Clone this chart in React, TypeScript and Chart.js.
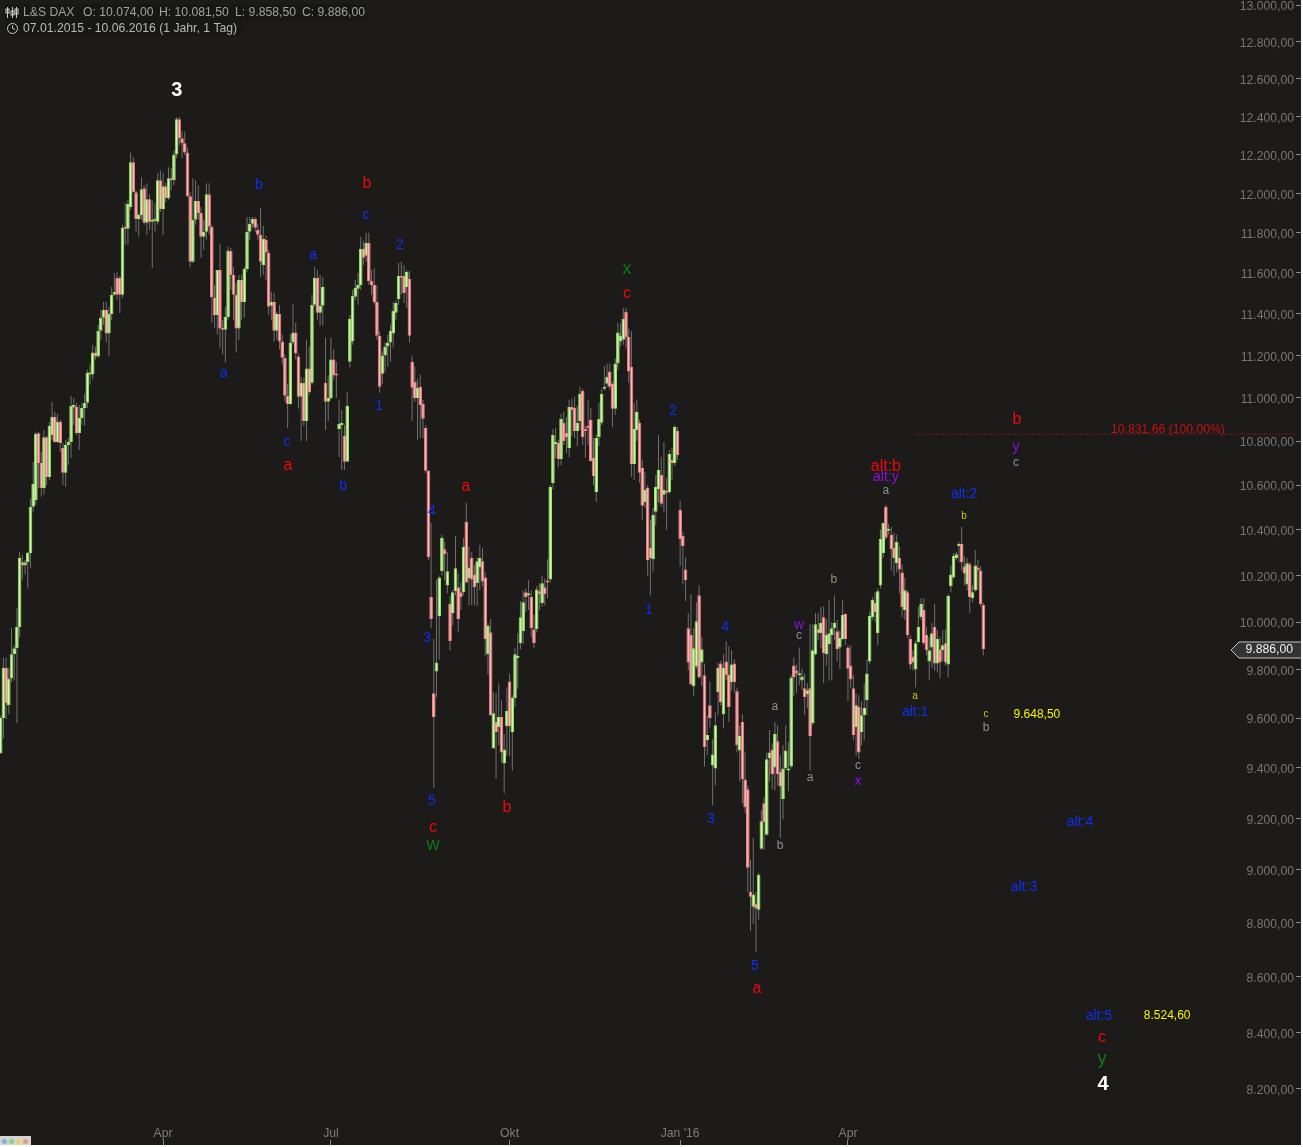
import React, { useEffect, useRef } from "react";
import { Chart, registerables } from "chart.js";

Chart.register(...registerables);

const opens = [
  9457,9600,9808,9653,9763,9864,9889,9979,10258,10244,
  10258,10298,10502,10533,10836,10700,10587,10818,10636,10828,
  10912,10796,10889,10768,10655,10782,10796,10955,10958,10837,
  10907,10953,10977,11110,11110,11214,11195,11319,11381,11420,
  11305,11400,11493,11576,11576,11493,11825,11820,11930,12159,
  12005,11870,11890,12025,11850,11970,11855,11860,11855,12067,
  11920,12036,11975,12077,12067,12200,12384,12284,12258,12210,
  11985,11655,11865,11960,11900,11780,11805,11995,11830,11480,
  11395,11615,11329,11324,11385,11710,11590,11493,11329,11566,
  11458,11620,11805,11845,11870,11815,11790,11640,11765,11700,
  11440,11458,11319,11400,11267,11190,11010,10972,11262,11310,
  11195,11005,11071,10893,11138,11071,11444,11576,11405,11439,
  11071,10982,11000,11181,11110,10856,10874,10823,10705,11171,
  11267,11483,11522,11541,11720,11685,11750,11561,11541,11458,
  11295,11114,11200,11243,11262,11305,11405,11473,11580,11585,
  11531,11570,11171,11076,11000,11052,10972,10860,10664,10107,
  9702,9792,10026,10218,10315,10157,10077,10039,10132,10149,
  10128,10128,10436,10187,10276,10204,10166,10235,10262,10191,
  9864,9957,9477,9584,9563,9604,9416,9567,9751,9543,
  9682,9848,9910,9961,10128,10115,10107,9970,9970,10132,
  10081,10149,10174,10183,10609,10787,10791,10718,10884,10837,
  10768,10958,10953,10846,10893,11033,10856,10870,10898,10723,
  10569,10818,10884,11043,11067,11124,11067,10949,11162,11267,
  11276,11410,11290,11147,10695,10851,10884,10677,10524,10587,
  10320,10271,10480,10582,10645,10556,10573,10569,10714,10700,
  10846,10489,10373,10226,9974,9945,9731,9813,10115,9830,
  9776,9510,9653,9408,9396,9706,9825,9616,9834,9780,
  9747,9825,9710,9469,9584,9353,9314,8917,8860,8872,
  8849,9081,9259,9135,9437,9473,9400,9506,9384,9275,
  9396,9388,9404,9817,9796,9776,9755,9723,9698,9723,
  9580,9864,9970,9953,10021,9864,9906,9945,9974,9961,
  9893,9928,10034,9893,9817,9723,9563,9645,9543,9612,
  9673,9834,10021,10081,9953,10157,10298,10502,10396,10378,
  10320,10253,10276,10213,10051,10128,9928,9855,9800,9915,
  10021,10051,9945,9834,9893,9979,9825,9885,9881,9910,
  9821,10153,10191,10276,10329,10337,10240,10161,10249,10102,
  10136,10235,10222,10074,
];

const highs = [
  9612,9851,9851,9808,9974,9902,10060,10302,10289,10267,
  10302,10538,10705,10843,10841,10750,10851,10823,10888,10982,
  10935,10926,10898,10791,10805,10814,11009,11000,10977,10967,
  10977,11019,11133,11157,11252,11243,11348,11420,11458,11458,
  11434,11531,11600,11605,11585,11840,11950,11965,12210,12185,
  12015,11900,12082,12041,12051,11995,11965,11950,12102,12118,
  12107,12051,12133,12128,12221,12395,12395,12321,12321,12237,
  12005,12077,12067,12041,11930,11865,12051,12051,11840,11541,
  11615,11745,11371,11434,11730,11725,11630,11551,11590,11590,
  11630,11880,11880,11880,11880,11845,11925,11835,11785,11715,
  11507,11502,11410,11444,11300,11205,11067,11300,11448,11357,
  11210,11100,11095,11276,11243,11493,11630,11615,11590,11580,
  11286,11105,11286,11229,11171,10991,10944,10874,11028,11395,
  11517,11566,11600,11780,11760,11800,11800,11615,11625,11541,
  11315,11219,11262,11300,11348,11458,11468,11650,11655,11640,
  11615,11610,11200,11147,11090,11110,10991,10874,10668,10431,
  9928,10179,10200,10378,10347,10302,10111,10136,10373,10209,
  10170,10365,10520,10325,10302,10244,10280,10333,10320,10213,
  9996,10013,9706,9702,9743,9673,9535,9726,9784,9694,
  9889,9953,10090,10136,10145,10179,10136,10030,10153,10166,
  10200,10187,10271,10600,10855,10860,10805,10926,10935,10912,
  10991,10996,11005,10963,11052,11043,10870,10991,10953,10814,
  10828,10977,11043,11152,11162,11162,11076,11186,11357,11353,
  11429,11429,11329,11319,10977,10991,10898,10714,10659,10600,
  10444,10498,10645,10828,10727,10796,10632,10759,10768,10874,
  10865,10529,10391,10280,10039,10119,9974,10085,10157,9936,
  9825,9612,9751,9514,9624,9830,9838,9864,9919,9898,
  9881,9842,9726,9571,9616,9465,9329,9038,9123,8917,
  8989,9231,9282,9461,9551,9498,9584,9571,9449,9490,
  9571,9502,9776,9851,9821,9893,9804,9784,9743,9991,
  9991,10039,10039,10064,10068,10013,10094,10000,10115,10009,
  9966,10094,10039,9902,9902,9776,9702,9694,9669,9743,
  9842,10043,10107,10128,10145,10400,10431,10511,10427,10413,
  10387,10378,10329,10249,10191,10136,9945,9881,9923,10064,
  10102,10102,9979,9936,9996,10077,9966,9936,9966,9970,
  10119,10244,10298,10302,10347,10413,10285,10276,10258,10157,
  10311,10267,10240,10081.5,
];

const lows = [
  9457,9518,9596,9616,9747,9755,9580,9936,10183,10204,
  10144,10231,10480,10511,10587,10547,10556,10600,10623,10805,
  10791,10791,10750,10600,10591,10691,10723,10874,10828,10759,
  10874,10870,10953,11062,11086,11181,11190,11276,11348,11262,
  11195,11371,11488,11468,11405,11478,11740,11740,11915,12005,
  11805,11780,11865,11840,11790,11815,11625,11805,11840,11905,
  11790,11955,11965,12015,12041,12180,12247,12180,12195,11980,
  11630,11650,11840,11865,11675,11715,11765,11790,11357,11333,
  11300,11238,11205,11167,11371,11517,11371,11214,11276,11371,
  11381,11605,11765,11825,11805,11765,11580,11590,11566,11395,
  11371,11267,11276,11229,11157,10982,10860,10967,11252,11181,
  10949,10800,10870,10800,11014,11062,11434,11371,11343,11343,
  10851,10893,10991,11086,11000,10727,10668,10668,10705,11143,
  11252,11468,11444,11517,11640,11655,11541,11493,11444,11276,
  11024,11067,11119,11147,11171,11238,11371,11444,11493,11453,
  11429,11262,10893,10982,10805,10814,10814,10654,10267,9974,
  9318,9685,9842,10200,10179,10123,9881,9987,10115,9957,
  10051,10115,10166,10072,10072,10072,10068,10136,10153,9855,
  9780,9608,9477,9357,9490,9420,9298,9449,9445,9388,
  9645,9723,9885,9906,10043,10051,9936,9889,9957,10051,
  10064,10072,10102,10170,10582,10723,10682,10691,10782,10745,
  10727,10823,10814,10777,10851,10782,10723,10782,10705,10600,
  10524,10777,10874,11033,11052,11038,10865,10921,11133,11243,
  11252,11233,11071,10636,10623,10800,10609,10444,10498,10200,
  10115,10218,10418,10524,10502,10476,10400,10560,10623,10686,
  10714,10240,10161,10090,9796,9735,9690,9804,9763,9731,
  9404,9449,9563,9251,9329,9612,9653,9559,9755,9584,
  9714,9706,9461,9345,9259,9220,8917,8770,8796,8692,
  8811,9077,9077,9131,9345,9314,9310,9329,9123,9196,
  9392,9306,9396,9690,9702,9735,9714,9612,9641,9388,
  9571,9860,9923,9889,9743,9817,9755,9755,9923,9834,
  9804,9923,9902,9669,9723,9510,9449,9433,9490,9510,
  9612,9821,10009,10000,9902,10144,10276,10356,10378,10222,
  10200,10213,10123,10021,10009,9932,9800,9796,9727,9910,
  10009,9902,9860,9755,9808,9796,9788,9763,9838,9817,
  9767,10128,10187,10267,10258,10222,10157,10136,10039,10085,
  10128,10136,10068,9858.5,
];

const closes = [
  9600,9808,9661,9763,9864,9889,9979,10276,10244,10258,
  10298,10502,10605,10832,10700,10587,10818,10636,10870,10912,
  10796,10889,10791,10655,10782,10796,10963,10967,10837,10907,
  10953,10977,11120,11120,11214,11195,11319,11381,11420,11305,
  11400,11493,11507,11493,11493,11825,11820,11945,12159,12005,
  11870,11890,12020,11850,11970,11855,11865,11870,12067,11920,
  12036,11975,12077,12067,12200,12384,12284,12258,12210,11985,
  11655,11865,11960,11900,11780,11805,11995,11830,11480,11395,
  11615,11329,11324,11385,11710,11590,11493,11329,11566,11458,
  11620,11805,11845,11870,11825,11790,11655,11770,11700,11435,
  11458,11319,11400,11267,11190,11010,10972,11262,11310,11210,
  11005,11071,10893,11138,11028,11444,11576,11405,11439,11531,
  10982,11000,11181,11105,11105,10879,10884,10705,10963,11376,
  11488,11527,11541,11720,11675,11750,11561,11541,11458,11295,
  11052,11200,11243,11262,11319,11415,11453,11585,11576,11502,
  11605,11295,11048,11000,11048,10967,10903,10664,10280,10013,
  9604,9830,10191,10365,10293,10218,9919,10128,10231,10013,
  10107,10325,10170,10235,10183,10149,10262,10276,10174,9927,
  9983,9612,9620,9543,9604,9461,9473,9629,9567,9682,
  9864,9852,10021,10085,10107,10123,9974,9910,10140,10119,
  10166,10119,10170,10591,10828,10796,10718,10903,10800,10818,
  10958,10944,10846,10884,11019,10818,10846,10860,10709,10641,
  10814,10903,11019,11048,11100,11052,10949,11162,11310,11295,
  11376,11286,11124,10695,10856,10935,10655,10507,10578,10267,
  10276,10467,10591,10668,10516,10578,10565,10741,10700,10865,
  10736,10360,10329,10179,9830,9738,9889,10004,9767,9885,
  9482,9531,9600,9453,9571,9808,9665,9808,9776,9645,
  9821,9747,9490,9527,9353,9243,9008,8898,8906,8853,
  8981,9188,9185,9433,9461,9373,9535,9373,9325,9396,
  9469,9392,9767,9767,9784,9784,9771,9686,9714,9527,
  9881,9991,9953,9996,9868,9945,9953,9974,9996,9885,
  9932,10030,9928,9804,9759,9531,9653,9461,9612,9641,
  9784,10026,10094,10043,10132,10360,10431,10365,10404,10315,
  10276,10347,10226,10064,10136,9945,9821,9830,9910,9979,
  10077,9910,9881,9881,9953,9825,9928,9830,9902,9830,
  10111,10204,10285,10293,10337,10258,10209,10253,10107,10128,
  10244,10222,10077,9886,
];

const priceTicks = [
  8200,8400,8600,8800,9000,9200,9400,9600,9800,10000,10200,10400,10600,
  10800,11000,11200,11400,11600,11800,12000,12200,12400,12600,12800,13000,
];
const monthLabels = ["Apr", "Jul", "Okt", "Jan '16", "Apr"];
const monthSlots = [60, 122, 188, 251, 313];

const labelTexts = [
  "3","b","a","a","c","a","b","c","2","1","b","4","a","3","5","c","w","b","x","c","2","1","4","3","5","a",
  "a","w","c","b","a","b","c","x","a","alt:b","alt:y","alt:2","b","a","alt:1","c","b","9.648,50",
  "b","y","c","10.831,66 (100.00%)","alt:4","alt:3","alt:5","8.524,60","c","y","4",
];
const labelSlots = [
  65.1,95.4,82.5,115.4,105.8,106.1,135.3,134.9,147.5,139.8,126.5,159.3,171.9,157.5,159.3,159.7,159.7,187,231.4,231.4,248.4,239.5,267.6,262.4,278.6,279.4,
  286,294.9,294.9,307.8,299,287.9,316.7,316.7,327,327,327,355.9,355.9,337.8,337.8,364,364,382.8,
  375.4,375.1,375.1,431.2,398.7,378,405.7,430.9,406.8,406.8,407.2,
];
const labelPrices = [
  12546,12051,11124,11700,10805,10695,12062,11900,11750,10972,10605,10493,10600,9940,9275,9173,9104,9251,11630,11507,10949,10060,9987,9204,8645,8564,
  9653,9996,9949,10191,9369,9100,9416,9353,10582,10691,10645,10569,10471,9698,9633,9625,9567,9621,
  10907,10782,10709,10860,9192,8940,8466,8466,8386,8312,8221,
];
const labelStyles = [
  "wave","blue","blue","blue","blue","red","red","blue","blue","blue","blue","blue","red","blue","blue","red","green","red","green","red","blue","blue","blue","blue","blue","red",
  "gray","purple","gray","tan","gray","gray","gray","purple","gray","red","purple","blue","yellowSmall","yellowSmall","blue","yellowSmall","gray","yellow",
  "red","purple","gray","target","blue","blue","blue","yellow","red","green","wave",
];
const styleTable: Record<string, { color: string; font: string }> = {
  wave: { color: "#ffffff", font: "bold 20px 'Liberation Sans'" },
  blue: { color: "#0d30ee", font: "14px 'Liberation Sans'" },
  red: { color: "#ee0808", font: "16px 'Liberation Sans'" },
  green: { color: "#0c7a12", font: "18px 'Liberation Sans'" },
  purple: { color: "#8a0fd8", font: "14px 'Liberation Sans'" },
  gray: { color: "#8c8f96", font: "12px 'Liberation Sans'" },
  tan: { color: "#96917a", font: "12px 'Liberation Sans'" },
  yellowSmall: { color: "#d8c400", font: "10px 'Liberation Sans'" },
  yellow: { color: "#f4f400", font: "12px 'Liberation Sans'" },
  target: { color: "#c41010", font: "12.2px 'Liberation Sans'" },
};

const headerLine1 = [
  { text: "L&S DAX", slot: 23 },
  { text: "O: 10.074,00", slot: 83 },
  { text: "H: 10.081,50", slot: 159 },
  { text: "L: 9.858,50", slot: 235 },
  { text: "C: 9.886,00", slot: 302 },
];
const headerLine2 = "07.01.2015 - 10.06.2016 (1 Jahr, 1 Tag)";
const targetPrice = 10831.66;
const targetStartSlot = 338;
const lastPrice = 9886;
const lastPriceText = "9.886,00";

const BG = "#1c1b1a";

const fmt = (v: number) =>
  v.toLocaleString("de-DE", { minimumFractionDigits: 2, maximumFractionDigits: 2 });

const chartPainter = {
  id: "chartPainter",
  beforeDraw(chart: any) {
    const c = chart.ctx;
    c.save();
    c.fillStyle = BG;
    c.fillRect(0, 0, chart.width, chart.height);
    c.restore();
  },
  afterDraw(chart: any) {
    const c = chart.ctx;
    const xs = chart.scales.x;
    const ys = chart.scales.y;
    c.save();
    c.textBaseline = "middle";
    c.textAlign = "center";
    labelTexts.forEach((t, i) => {
      const s = styleTable[labelStyles[i]];
      c.font = s.font;
      c.fillStyle = s.color;
      c.fillText(t, xs.getPixelForValue(labelSlots[i]), ys.getPixelForValue(labelPrices[i]) + 2);
    });

    // header
    c.fillStyle = "#171716";
    c.fillRect(5, 4, 362, 16);
    c.fillRect(5, 20, 238, 16);
    c.textAlign = "left";
    c.font = "12.2px 'Liberation Sans'";
    c.fillStyle = "#a0a0a0";
    headerLine1.forEach((h) => c.fillText(h.text, h.slot, 12.5));
    c.fillStyle = "#b8b8b8";
    c.fillText(headerLine2, 23, 28.5);

    // small candlestick icon
    c.strokeStyle = "#c8c8c8";
    c.lineWidth = 1;
    [[7.5, 9, 13], [12.5, 11, 15], [16.5, 9, 14]].forEach(([x, a, b]) => {
      c.strokeRect(x - 1.5, a, 3, b - a);
      c.beginPath();
      c.moveTo(x, 7);
      c.lineTo(x, 18);
      c.stroke();
    });
    // clock icon
    c.beginPath();
    c.arc(12.5, 28.5, 5, 0, Math.PI * 2);
    c.moveTo(12.5, 25.5);
    c.lineTo(12.5, 28.5);
    c.lineTo(15, 29.5);
    c.stroke();

    // last price tag
    const ty = Math.round(ys.getPixelForValue(lastPrice)) + 1;
    c.beginPath();
    c.moveTo(1301, ty - 8);
    c.lineTo(1239, ty - 8);
    c.lineTo(1231, ty);
    c.lineTo(1239, ty + 8);
    c.lineTo(1301, ty + 8);
    c.fillStyle = "#333333";
    c.fill();
    c.strokeStyle = "#c4c4c4";
    c.stroke();
    c.fillStyle = "#f0f0f0";
    c.textAlign = "right";
    c.font = "12.2px 'Liberation Sans'";
    c.fillText(lastPriceText, 1293, ty);

    // corner widget
    c.fillStyle = "#d6d3d0";
    c.fillRect(0, 1136, 31, 9);
    ["#7fb2dc", "#8fd08a", "#e6d27a", "#e89a78"].forEach((col, i) => {
      c.beginPath();
      c.arc(4.5 + i * 7, 1141.5, 2.5, 0, Math.PI * 2);
      c.fillStyle = col;
      c.fill();
    });
    c.restore();
  },
};

const noPadding = (s: any) => {
  s.paddingTop = 0;
  s.paddingBottom = 0;
  s.paddingLeft = 0;
  s.paddingRight = 0;
};

export default function App() {
  const ref = useRef<HTMLCanvasElement | null>(null);
  useEffect(() => {
    document.body.style.margin = "0";
    document.body.style.background = "#ffffff";
    const slots = opens.map((_, i) => i);
    const up = opens.map((o, i) => closes[i] >= o);
    const chart = new Chart(ref.current as HTMLCanvasElement, {
      type: "bar",
      data: {
        datasets: [
          {
            type: "line",
            data: [
              { x: targetStartSlot, y: targetPrice },
              { x: 478.5, y: targetPrice },
            ],
            borderColor: "#b02020",
            borderWidth: 1,
            borderDash: [1, 2],
            pointRadius: 0,
            order: 0,
          },
          {
            data: slots.map((i) => ({ x: i, y: [Math.min(opens[i], closes[i]), Math.max(opens[i], closes[i])] })),
            backgroundColor: up.map((u) => (u ? "#d2f8b6" : "#ffb8b8")),
            borderColor: up.map((u) => (u ? "#93ec55" : "#ff7c7c")),
            borderWidth: 1,
            borderSkipped: false,
            inflateAmount: 0,
            barThickness: 3.6,
            grouped: false,
            minBarLength: 2,
            order: 1,
          },
          {
            data: slots.map((i) => ({ x: i, y: [lows[i], highs[i]] })),
            backgroundColor: "#707070",
            borderWidth: 0,
            inflateAmount: 0,
            barThickness: 1,
            grouped: false,
            order: 2,
          },
        ],
      } as any,
      options: {
        responsive: false,
        animation: false,
        devicePixelRatio: 1,
        layout: { padding: 0 },
        plugins: { legend: { display: false }, tooltip: { enabled: false } },
        scales: {
          x: {
            type: "linear",
            offset: false,
            min: -0.25,
            max: 478.5,
            border: { display: false },
            grid: { offset: false, drawOnChartArea: false, drawTicks: true, tickLength: 5, color: "#8a8a8a" },
            afterBuildTicks: (s: any) => {
              s.ticks = monthSlots.map((v) => ({ value: v }));
            },
            afterFit: (s: any) => {
              s.height = 5;
              noPadding(s);
            },
            ticks: {
              mirror: true,
              padding: -1,
              autoSkip: false,
              maxRotation: 0,
              color: "#7d7d7d",
              font: { family: "'Liberation Sans'", size: 12.2 },
              callback: (v: any) => monthLabels[monthSlots.indexOf(Number(v))] ?? "",
            },
          },
          y: {
            type: "logarithmic",
            position: "right",
            min: 8023.5,
            max: 13027.7,
            border: { display: false },
            grid: { drawOnChartArea: false, drawTicks: true, tickLength: 5, color: "#8a8a8a" },
            afterBuildTicks: (s: any) => {
              s.ticks = priceTicks.map((v) => ({ value: v }));
            },
            afterFit: (s: any) => {
              s.width = 5;
              noPadding(s);
            },
            ticks: {
              mirror: true,
              padding: -2,
              labelOffset: 2,
              autoSkip: false,
              color: "#767676",
              font: { family: "'Liberation Sans'", size: 12.2 },
              callback: (v: any) => fmt(Number(v)),
            },
          },
        },
      } as any,
      plugins: [chartPainter],
    } as any);
    return () => chart.destroy();
  }, []);
  return <canvas ref={ref} width={1301} height={1145} style={{ display: "block" }} />;
}
